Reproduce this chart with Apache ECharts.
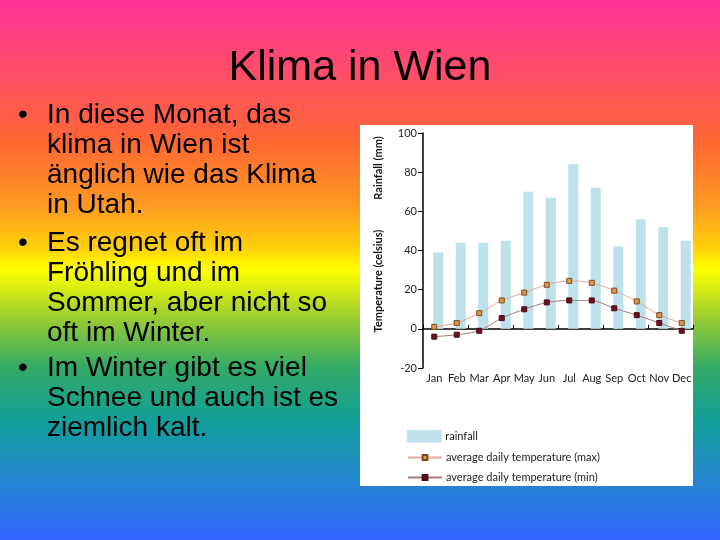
<!DOCTYPE html>
<html>
<head>
<meta charset="utf-8">
<script src="https://cdn.jsdelivr.net/npm/echarts@6/dist/echarts.min.js"></script>
<style>
html,body{margin:0;padding:0;}
#c{width:720px;height:540px;background:linear-gradient(to bottom,#ff3399 0%,#ff4f66 14%,#ff6633 26%,#ff9922 38%,#ffd10a 46%,#ffff00 50%,#99cc33 59%,#33aa66 68%,#119f99 78%,#2288cc 88%,#3366ff 100%);}
</style>
</head>
<body>
<div id="c"></div>
<script>
const months = ['Jan','Feb','Mar','Apr','May','Jun','Jul','Aug','Sep','Oct','Nov','Dec'];
const rainfall = [39, 44, 44, 45, 70, 67, 84, 72, 42, 56, 52, 45];
const tempMax = [1, 3, 8, 14.5, 18.5, 22.5, 24.5, 23.5, 19.5, 14, 7, 3];
const tempMin = [-4, -3, -1, 5.5, 10, 13.5, 14.5, 14.5, 10.5, 7, 3, -1];
const yTicks = {min: -20, max: 100, interval: 20};
const titleText = 'Klima in Wien';
const bullets = [
  ['In diese Monat, das', 'klima in Wien ist', 'änglich wie das Klima', 'in Utah.'],
  ['Es regnet oft im', 'Fröhling und im', 'Sommer, aber nicht so', 'oft im Winter.'],
  ['Im Winter gibt es viel', 'Schnee und auch ist es', 'ziemlich kalt.']
];
const legendNames = ['rainfall', 'average daily temperature (max)', 'average daily temperature (min)'];

const chart = echarts.init(document.getElementById('c'), null, {renderer: 'canvas'});

const textEls = [];
textEls.push({type: 'rect', shape: {x: 360, y: 125, width: 333, height: 361}, style: {fill: '#ffffff'}, z: -10});
textEls.push({type: 'text', x: 360, y: 68, style: {text: titleText, font: '43px "Liberation Sans", Arial, sans-serif', fill: '#000', align: 'center', verticalAlign: 'middle'}});
const bulletStarts = [115, 243, 368];
bullets.forEach((lines, bi) => {
  const y0 = bulletStarts[bi];
  textEls.push({type: 'text', x: 23, y: y0, style: {text: '•', font: '28px "Liberation Sans", Arial, sans-serif', fill: '#000', align: 'center', verticalAlign: 'middle'}});
  lines.forEach((ln, li) => {
    textEls.push({type: 'text', x: 47, y: y0 + li * 30, style: {text: ln, font: '28px "Liberation Sans", Arial, sans-serif', fill: '#000', align: 'left', verticalAlign: 'middle'}});
  });
});
textEls.push({type: 'text', x: 378, y: 168, rotation: Math.PI / 2, style: {text: 'Rainfall (mm)', font: 'bold 11px Lato, sans-serif', fill: '#111', align: 'center', verticalAlign: 'middle'}});
textEls.push({type: 'text', x: 378, y: 281, rotation: Math.PI / 2, style: {text: 'Temperature (celsius)', font: 'bold 11px Lato, sans-serif', fill: '#111', align: 'center', verticalAlign: 'middle'}});

const legendText = {fontFamily: 'Lato, sans-serif', fontSize: 11, color: '#222', padding: [0, 0, 0, -1]};
const option = {
  animation: false,
  backgroundColor: 'transparent',
  textStyle: {fontFamily: 'Lato, sans-serif'},
  graphic: {elements: textEls},
  grid: {left: 423, right: 27, top: 133, bottom: 172, containLabel: false},
  legend: [
    {
      data: [{name: legendNames[0], icon: 'rect'}],
      orient: 'vertical', left: 407, top: 430,
      itemWidth: 34, itemHeight: 12,
      itemStyle: {borderColor: '#c8d6da', borderWidth: 0.5},
      textStyle: legendText, padding: 0
    },
    {
      data: [legendNames[1], legendNames[2]],
      orient: 'vertical', left: 407, top: 452,
      itemWidth: 34, itemHeight: 6, itemGap: 9,
      textStyle: legendText, padding: 0
    }
  ],
  xAxis: [
    {
      type: 'category', data: months, position: 'bottom',
      axisLine: {show: false, onZero: false},
      axisTick: {show: false},
      axisLabel: {fontFamily: 'Lato, sans-serif', fontSize: 11, color: '#222', margin: 5, interval: 0}
    },
    {
      type: 'category', data: months, position: 'top',
      axisLine: {show: true, onZero: true, lineStyle: {color: '#000', width: 1.5}},
      axisTick: {show: true, length: 4, lineStyle: {color: '#000', width: 1}},
      axisLabel: {show: false}
    }
  ],
  yAxis: {
    type: 'value', min: yTicks.min, max: yTicks.max, interval: yTicks.interval,
    axisLine: {show: true, lineStyle: {color: '#000', width: 1.5}},
    axisTick: {show: true, length: 5, lineStyle: {color: '#000'}},
    axisLabel: {fontFamily: 'Lato, sans-serif', fontSize: 11, color: '#222', margin: 6},
    splitLine: {show: false}
  },
  series: [
    {name: '_pad', type: 'bar', xAxisIndex: 0, data: months.map(() => null), barWidth: 10, silent: true, itemStyle: {color: 'rgba(0,0,0,0)'}},
    {name: legendNames[0], type: 'bar', xAxisIndex: 0, data: rainfall, barWidth: 10, barGap: '-20%', itemStyle: {color: '#bde2ea'}},
    {name: legendNames[1], type: 'line', xAxisIndex: 0, data: tempMax, smooth: 0.25, symbol: 'rect', symbolSize: 5,
      lineStyle: {color: '#eca797', width: 1}, itemStyle: {color: '#d99a4a', borderColor: '#7a4a25', borderWidth: 1}, z: 3},
    {name: legendNames[2], type: 'line', xAxisIndex: 0, data: tempMin, smooth: 0.25, symbol: 'rect', symbolSize: 5,
      lineStyle: {color: '#a77a7a', width: 1}, itemStyle: {color: '#6a1022', borderColor: '#4a0a15', borderWidth: 1}, z: 3}
  ]
};
chart.setOption(option);
</script>
</body>
</html>
